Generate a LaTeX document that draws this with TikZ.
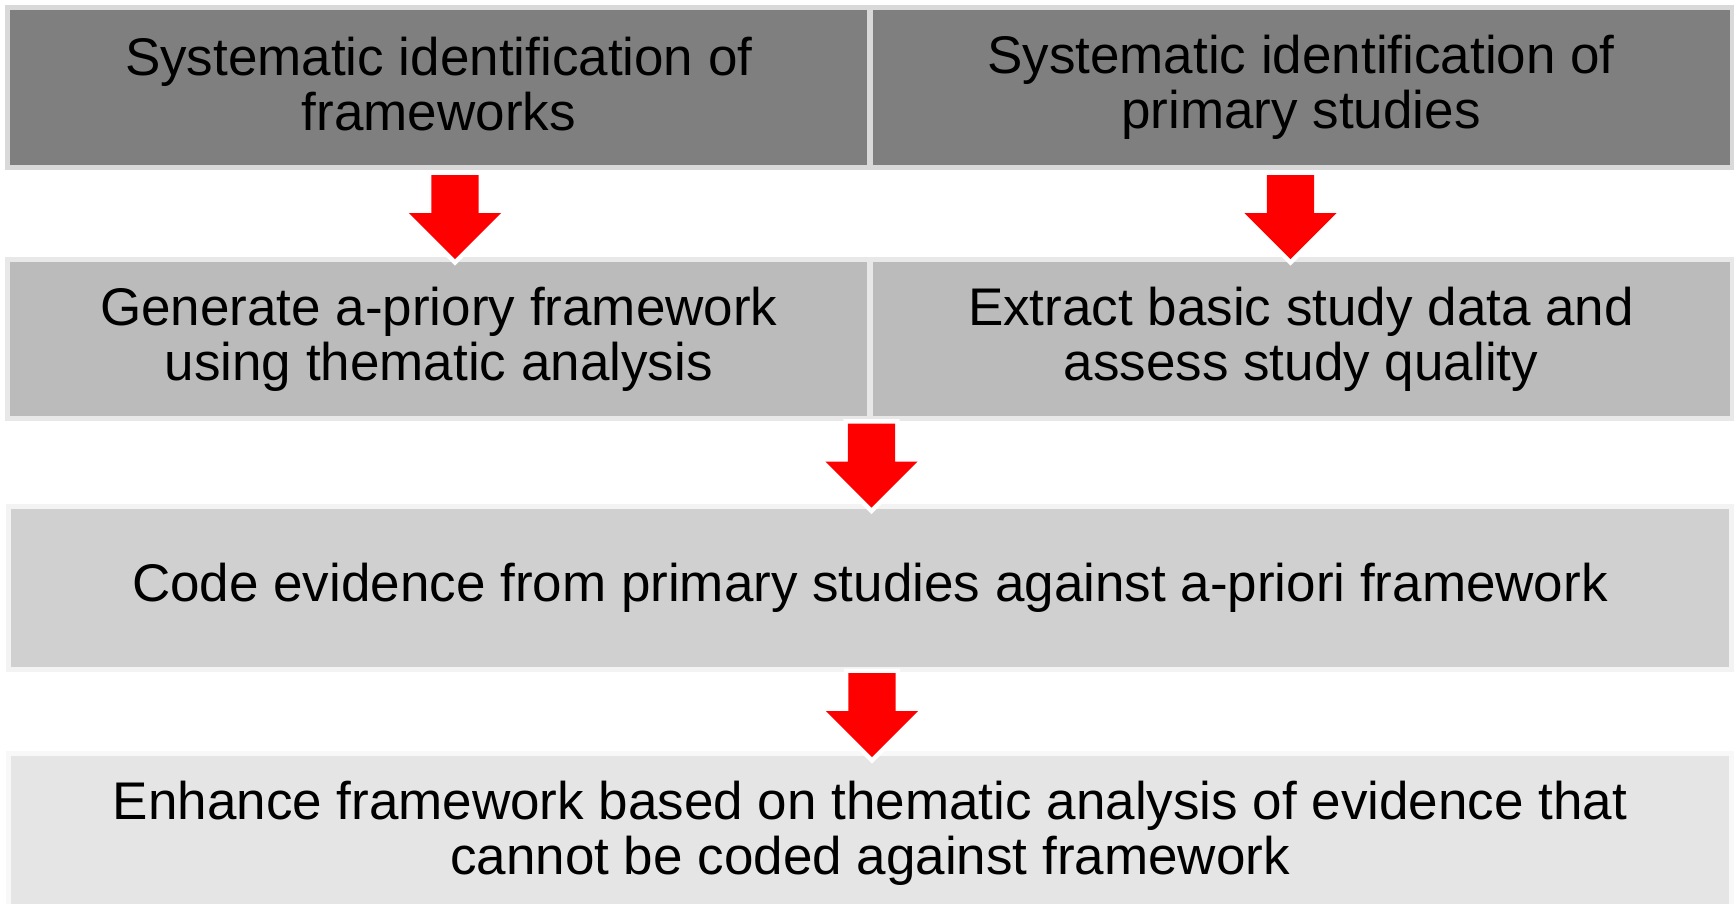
\documentclass[tikz,border=0pt]{standalone}
\usepackage{fontspec}
\setmainfont{Liberation Sans}
\usetikzlibrary{shapes.arrows}
\definecolor{rowone}{HTML}{7F7F7F}
\definecolor{rowonerim}{HTML}{D9D9D9}
\definecolor{rowtwo}{HTML}{BBBBBB}
\definecolor{rowtworim}{HTML}{E8E8E8}
\definecolor{rowthree}{HTML}{D0D0D0}
\definecolor{rowthreerim}{HTML}{F3F3F3}
\definecolor{rowfour}{HTML}{E5E5E5}
\definecolor{rowfourrim}{HTML}{F8F8F8}
\newcommand{\stepstrut}{\rule[-6.5pt]{0pt}{45pt}}
\begin{document}
\begin{tikzpicture}[
        x=1pt, y=-1pt,
        stepbox/.style={rectangle, line width=5pt, inner sep=0pt,
        align=center, font=\fontsize{53}{55}\selectfont},
        halfbox/.style={stepbox, minimum width=862pt},
        fullbox/.style={stepbox, minimum width=1723pt},
        downarrow/.style={single arrow, shape border rotate=270,
        fill=red, inner sep=23.5pt, minimum height=84pt, minimum width=92pt,
        single arrow head extend=22.5pt, anchor=tip,
        preaction={draw=white, line width=9pt}}
        ]
        \useasboundingbox (0,0) rectangle (1734,904);
        % Row 1
        \node[halfbox, fill=rowone, draw=rowonerim, minimum height=160pt]
            (idframe) at (438.75,87.5)
            {\stepstrut Systematic identification of\\\stepstrut frameworks};
        \node[halfbox, fill=rowone, draw=rowonerim, minimum height=160pt]
            (idstudy) at (1301,87.5)
            {\stepstrut Systematic identification of\\\stepstrut primary studies};
        % Row 2
        \node[halfbox, fill=rowtwo, draw=rowtworim, minimum height=159pt]
            (genframe) at (438.75,339)
            {\stepstrut Generate a-priory framework\\\stepstrut using thematic analysis};
        \node[halfbox, fill=rowtwo, draw=rowtworim, minimum height=159pt]
            (extract) at (1301,339)
            {\stepstrut Extract basic study data and\\\stepstrut assess study quality};
        % Row 3
        \node[fullbox, fill=rowthree, draw=rowthreerim, minimum height=163pt]
            (code) at (870,588)
            {\stepstrut Code evidence from primary studies against a-priori framework};
        % Row 4
        \node[fullbox, fill=rowfour, draw=rowfourrim, minimum height=160pt]
            (enhance) at (870,833.5)
            {\stepstrut Enhance framework based on thematic analysis of evidence that\\\stepstrut cannot be coded against framework};
        % Arrows
        \node[downarrow] (arrowframe) at ([xshift=16.25pt, yshift=-2.5pt]genframe.north) {};
        \node[downarrow] (arrowstudy) at ([xshift=-10.5pt, yshift=-2.5pt]extract.north) {};
        \node[downarrow] (arrowcode) at ([xshift=1.5pt, yshift=-4pt]code.north) {};
        \node[downarrow] (arrowenhance) at ([xshift=2pt, yshift=-6.5pt]enhance.north) {};
    \end{tikzpicture}
\end{document}
